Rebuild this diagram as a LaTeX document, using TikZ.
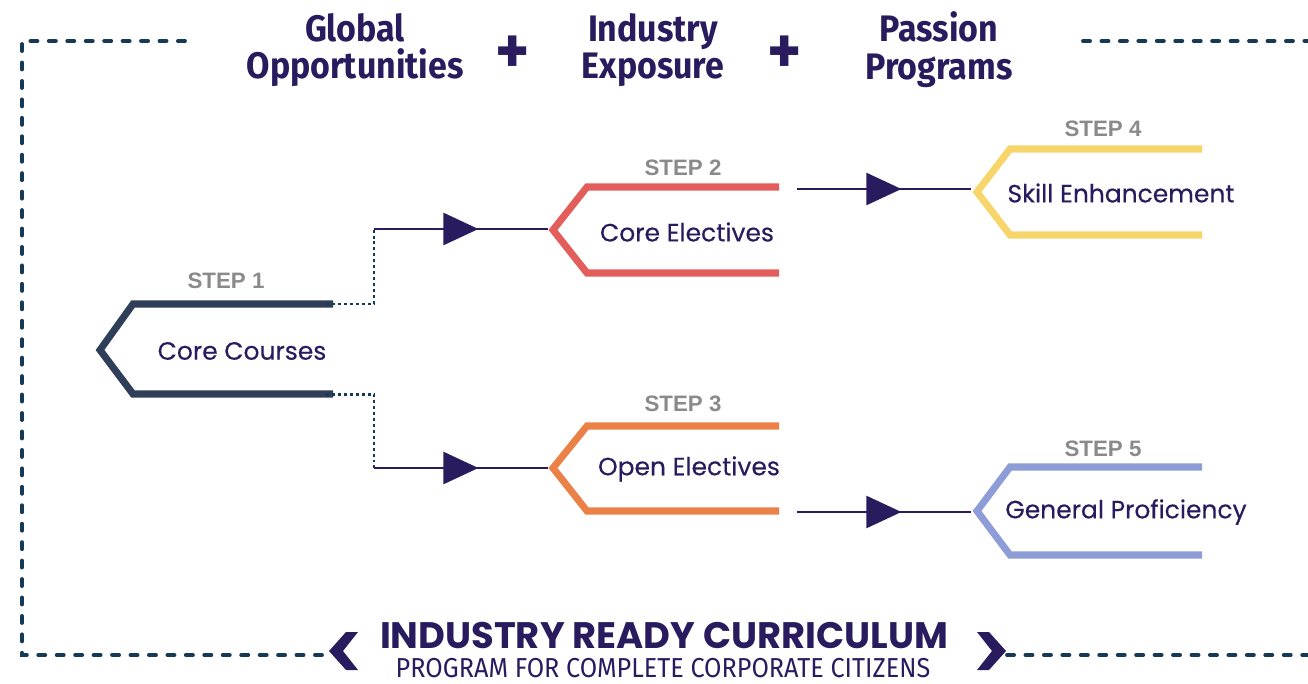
\documentclass[tikz,border=0pt]{standalone}
\usepackage{fontspec}
\usetikzlibrary{arrows.meta,decorations.markings,calc}
\setmainfont{Poppins}
\newfontfamily\headfont[FakeStretch=0.92]{Fira Sans}
\newfontfamily\boxfont[FakeBold=0.3]{Poppins}
\newfontfamily\stepfont{Liberation Sans}
\definecolor{c2a1b5f}{RGB}{42,27,95}
\definecolor{c2f3f58}{RGB}{47,63,88}
\definecolor{ce35d5a}{RGB}{227,93,90}
\definecolor{cec8147}{RGB}{236,129,71}
\definecolor{cf8d56a}{RGB}{248,213,106}
\definecolor{c8e9cd7}{RGB}{142,156,215}
\definecolor{c8a8a8a}{RGB}{138,138,138}
\definecolor{c163a55}{RGB}{22,58,85}
\tikzset{every path/.style={line join=miter},
  stepshape/.style={line width=4pt},
  flowline/.style={draw=c2a1b5f,line width=1.4pt,postaction={decorate},
    decoration={markings,mark=at position 0.6 with {\arrow{Triangle[length=0.7cm,width=0.64cm]}}}},
  linkdots/.style={draw=c163a55,line width=1.7pt,dash pattern=on 1.7pt off 1.7pt},
  framedash/.style={draw=c163a55,line width=2.2pt,line cap=round,dash pattern=on 4pt off 6.5pt}}

\begin{document}
\begin{tikzpicture}[x=0.02cm,y=-0.02cm]
\useasboundingbox (0,0) rectangle (1308,683);

% header
\begin{scope}[every node/.style={text=c2a1b5f,inner sep=0pt}]
\node[align=center,font=\headfont\bfseries\fontsize{21}{21.5}\selectfont] (glob) at (355,50) {Global\\Opportunities};
\node[font=\headfont\bfseries\fontsize{40}{40}\selectfont] (plus1) at (513,55) {+};
\node[align=center,font=\headfont\bfseries\fontsize{21}{21.5}\selectfont] (indu) at (653,50) {Industry\\Exposure};
\node[font=\headfont\bfseries\fontsize{40}{40}\selectfont] (plus2) at (785,55) {+};
\node[align=center,font=\headfont\bfseries\fontsize{21}{21.5}\selectfont] (pass) at (939,50) {Passion\\Programs};
\node[text depth=0pt,font=\bfseries\fontsize{21}{21}\selectfont] (title) at (664,635) {INDUSTRY READY CURRICULUM};
\node[text depth=0pt,font=\headfont\fontsize{15.6}{15.6}\selectfont] (subt) at (663,668) {PROGRAM FOR COMPLETE CORPORATE CITIZENS};
\end{scope}

% frame
\coordinate (f1) at (185,41);
\coordinate (f2) at (22,41);
\coordinate (f3) at (22,655);
\coordinate (f4) at (328,655);
\coordinate (f5) at (1007,655);
\coordinate (f6) at (1308,655);
\coordinate (f7) at (1083,41);
\coordinate (f8) at (1308,41);
\path[framedash] (f1) -- (f2) -- (f3) -- (f4);
\path[framedash] (f5) -- (f6);
\path[framedash] (f7) -- (f8);
\fill[c2a1b5f] (358,632) -- (346,632) -- (329,651) -- (346,670) -- (358,670) -- (343,651) -- cycle;
\fill[c2a1b5f] (977,632) -- (989,632) -- (1006,651) -- (989,670) -- (977,670) -- (992,651) -- cycle;

% step shapes
\draw[stepshape,draw=c2f3f58] (333,304) -- (133,304) -- (100,350) -- (133,394) -- (333,394);
\draw[stepshape,draw=ce35d5a] (779,187) -- (587,187) -- (553,230) -- (587,273) -- (779,273);
\draw[stepshape,draw=cec8147] (779,426) -- (587,426) -- (553,468) -- (587,511) -- (779,511);
\draw[stepshape,draw=cf8d56a] (1202,149) -- (1010,149) -- (977,192) -- (1010,235) -- (1202,235);
\draw[stepshape,draw=c8e9cd7] (1202,467) -- (1010,467) -- (977,511) -- (1010,555) -- (1202,555);

\begin{scope}[every node/.style={text=c8a8a8a,font=\stepfont\bfseries\fontsize{12.7}{12.7}\selectfont}]
\node (st1) at (226,281) {STEP 1};
\node (st2) at (683,168) {STEP 2};
\node (st3) at (683,404) {STEP 3};
\node (st4) at (1103,129) {STEP 4};
\node (st5) at (1103,449) {STEP 5};
\end{scope}

\begin{scope}[every node/.style={text=c2a1b5f,font=\boxfont\fontsize{14.2}{14.2}\selectfont}]
\node (core) at (242,351) {Core Courses};
\node (celec) at (687,232) {Core Electives};
\node (oelec) at (689,469) {Open Electives};
\node (skill) at (1121,193) {Skill Enhancement};
\node (gen) at (1126,512) {General Proficiency};
\end{scope}

% connectors
\coordinate (s1top) at (326,304);
\coordinate (s1bot) at (326,394);
\coordinate (j1) at (374,229);
\coordinate (j2) at (374,468);
\coordinate (s2in) at (548,229);
\coordinate (s3in) at (548,468);
\coordinate (s2out) at (797,189);
\coordinate (s3out) at (797,512);
\coordinate (s4in) at (971,189);
\coordinate (s5in) at (971,512);
\path[linkdots] (s1top) -| (j1);
\path[linkdots] (s1bot) -| (j2);
\path[flowline] (j1) -- (s2in);
\path[flowline] (j2) -- (s3in);
\path[flowline] (s2out) -- (s4in);
\path[flowline] (s3out) -- (s5in);

\end{tikzpicture}
\end{document}
